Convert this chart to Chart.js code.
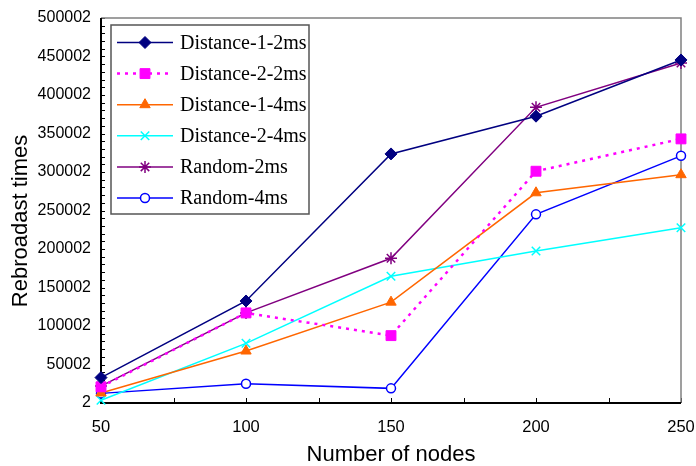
<!DOCTYPE html>
<html><head><meta charset="utf-8">
<script src="https://cdn.jsdelivr.net/npm/chart.js@4/dist/chart.umd.min.js"></script>
<style>html,body{margin:0;padding:0;background:#fff}#wrap{width:696px;height:466px;position:relative}</style>
</head><body><div id="wrap"><canvas id="c" width="696" height="466"></canvas></div>
<script>
// ---- data ----
const nodes = [50, 100, 150, 200, 250];
const seriesNames = ['Distance-1-2ms', 'Distance-2-2ms', 'Distance-1-4ms', 'Distance-2-4ms', 'Random-2ms', 'Random-4ms'];
const distance1_2ms = [33000, 132500, 323500, 372500, 445500];
const distance2_2ms = [21000, 117000, 87500, 301000, 343000];
const distance1_4ms = [13000, 67500, 131000, 273000, 296500];
const distance2_4ms = [3500, 77500, 164500, 197500, 227500];
const random2ms = [22000, 117000, 188000, 384000, 441500];
const random4ms = [12500, 25000, 19000, 245000, 321000];
const yTickValues = [2, 50002, 100002, 150002, 200002, 250002, 300002, 350002, 400002, 450002, 500002];
const xTickValues = [50, 100, 150, 200, 250];
const xTitle = 'Number of nodes';
const yTitle = 'Rebroadast times';

const seriesValues = [distance1_2ms, distance2_2ms, distance1_4ms, distance2_4ms, random2ms, random4ms];
const styles = [
  {color: '#000080', point: 'rectRot', r: 6, fill: '#000080', bw: 1, dash: []},
  {color: '#FF00FF', point: 'rect', r: 7, fill: '#FF00FF', bw: 1, dash: [3, 5], lw: 2.5},
  {color: '#FF6600', point: 'triangle', r: 6, fill: '#FF6600', bw: 1, dash: []},
  {color: '#00FFFF', point: 'crossRot', r: 6, fill: '#00FFFF', bw: 1.5, dash: []},
  {color: '#800080', point: 'star', r: 6, fill: '#800080', bw: 1.5, dash: []},
  {color: '#0000FF', point: 'circle', r: 4.5, fill: '#FFFFFF', bw: 1.5, dash: []}
];

const datasets = seriesNames.map((name, i) => ({
  label: name,
  data: nodes.map((n, j) => ({x: n, y: seriesValues[i][j]})),
  borderColor: styles[i].color,
  backgroundColor: styles[i].fill,
  borderWidth: styles[i].lw || 1.5,
  borderDash: styles[i].dash,
  pointStyle: styles[i].point,
  pointRadius: styles[i].r,
  pointHoverRadius: styles[i].r,
  pointBackgroundColor: styles[i].fill,
  pointBorderColor: styles[i].color,
  pointBorderWidth: styles[i].bw,
  tension: 0,
  clip: false
}));

const frameAndTicks = {
  id: 'frameAndTicks',
  beforeDatasetsDraw(chart) {
    const {ctx, chartArea: a, scales: {x, y}} = chart;
    ctx.save();
    ctx.strokeStyle = '#000';
    ctx.lineWidth = 1;
    ctx.beginPath();
    for (let v = yTickValues[0]; v <= yTickValues[yTickValues.length - 1]; v += 10000) {
      const py = Math.round(y.getPixelForValue(v)) + 0.5;
      ctx.moveTo(a.left, py); ctx.lineTo(a.left + 4, py);
    }
    for (let v = xTickValues[0]; v <= xTickValues[xTickValues.length - 1]; v += 25) {
      const px = Math.round(x.getPixelForValue(v)) + 0.5;
      ctx.moveTo(px, a.bottom); ctx.lineTo(px, a.bottom - 5);
    }
    ctx.stroke();
    ctx.strokeStyle = '#808080';
    ctx.lineWidth = 1.5;
    ctx.beginPath();
    ctx.moveTo(a.left, a.top); ctx.lineTo(a.right, a.top); ctx.lineTo(a.right, a.bottom);
    ctx.stroke();
    ctx.strokeStyle = '#000';
    ctx.lineWidth = 2;
    ctx.beginPath();
    ctx.moveTo(a.left, a.top); ctx.lineTo(a.left, a.bottom); ctx.lineTo(a.right, a.bottom);
    ctx.stroke();
    // y axis title
    ctx.save();
    ctx.translate(21, 221);
    ctx.rotate(-Math.PI / 2);
    ctx.fillStyle = '#000';
    ctx.font = '22px "Liberation Sans", Arial';
    ctx.textAlign = 'center';
    ctx.textBaseline = 'middle';
    ctx.fillText(yTitle, 0, 0);
    ctx.restore();
    ctx.restore();
  }
};

const boxLegend = {
  id: 'boxLegend',
  afterDatasetsDraw(chart) {
    const ctx = chart.ctx;
    ctx.save();
    const x0 = 111, y0 = 25, w = 198, h = 189;
    ctx.fillStyle = '#fff';
    ctx.fillRect(x0, y0, w, h);
    ctx.strokeStyle = '#555';
    ctx.lineWidth = 1.5;
    ctx.strokeRect(x0, y0, w, h);
    chart.data.datasets.forEach((ds, i) => {
      const cy = 42.5 + i * 31.1;
      ctx.strokeStyle = ds.borderColor;
      ctx.lineWidth = ds.borderWidth;
      ctx.setLineDash(ds.borderDash || []);
      ctx.beginPath();
      ctx.moveTo(117, cy); ctx.lineTo(173, cy);
      ctx.stroke();
      ctx.setLineDash([]);
      ctx.fillStyle = ds.pointBackgroundColor;
      ctx.strokeStyle = ds.pointBorderColor;
      ctx.lineWidth = ds.pointBorderWidth;
      Chart.helpers.drawPoint(ctx, {pointStyle: ds.pointStyle, radius: ds.pointRadius, rotation: 0, borderWidth: ds.pointBorderWidth}, 145, cy);
      ctx.fillStyle = '#000';
      ctx.font = '20px "Liberation Serif"';
      ctx.textBaseline = 'middle';
      ctx.textAlign = 'left';
      ctx.fillText(ds.label, 180, cy + 1);
    });
    ctx.restore();
  }
};

new Chart(document.getElementById('c'), {
  type: 'line',
  data: {datasets},
  options: {
    responsive: false,
    devicePixelRatio: 1,
    animation: false,
    layout: {padding: {top: 18, right: 15, left: 0, bottom: 0}},
    plugins: {legend: {display: false}, tooltip: {enabled: false}},
    scales: {
      x: {
        type: 'linear', min: 50, max: 250,
        afterBuildTicks: s => { s.ticks = xTickValues.map(v => ({value: v})); },
        afterFit: s => { s.height = 63; s.paddingLeft = 0; s.paddingRight = 0; },
        grid: {display: true, drawOnChartArea: false, drawTicks: false, color: 'transparent'},
        border: {display: false},
        ticks: {color: '#000', font: {family: '"Liberation Sans", Arial', size: 16.5}, padding: 15, maxRotation: 0, autoSkip: false},
        title: {display: true, text: xTitle, color: '#000', font: {family: '"Liberation Sans", Arial', size: 22, lineHeight: 1}, padding: {top: 0, bottom: 0}}
      },
      y: {
        type: 'linear', min: 2, max: 500002,
        afterBuildTicks: s => { s.ticks = yTickValues.map(v => ({value: v})); },
        afterFit: s => { s.width = 101; s.paddingTop = 0; s.paddingBottom = 0; },
        grid: {display: true, drawOnChartArea: false, drawTicks: false, color: 'transparent'},
        border: {display: false},
        ticks: {color: '#000', font: {family: '"Liberation Sans", Arial', size: 16}, padding: 10, autoSkip: false, callback: v => String(v)},
        title: {display: false, text: yTitle}
      }
    }
  },
  plugins: [frameAndTicks, boxLegend]
});
</script></body></html>
